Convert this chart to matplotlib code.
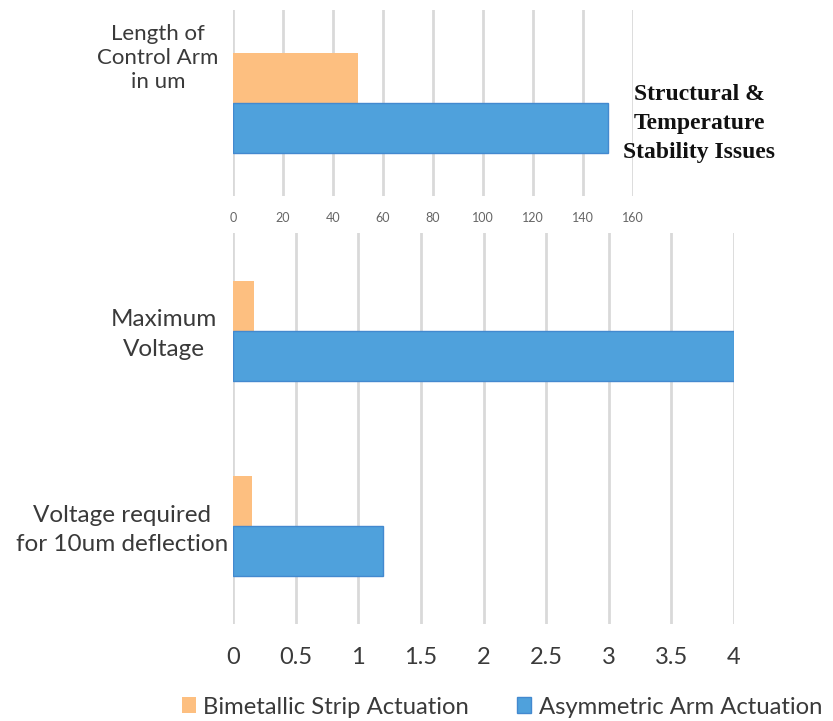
import matplotlib.pyplot as plt
import matplotlib.transforms as mtransforms
from matplotlib.patches import Patch

# data
series_names = ['Bimetallic Strip Actuation', 'Asymmetric Arm Actuation']
top_category = ['Length of\nControl Arm\nin um']
top_bimetallic = [50]
top_asymmetric = [150]
top_ticks = [0, 20, 40, 60, 80, 100, 120, 140, 160]

bottom_categories = ['Voltage required\nfor 10um deflection', 'Maximum\nVoltage']
bottom_bimetallic = [0.15, 0.17]
bottom_asymmetric = [1.2, 4.0]
bottom_ticks = [0, 0.5, 1, 1.5, 2, 2.5, 3, 3.5, 4]
bottom_ticklabels = ['0', '0.5', '1', '1.5', '2', '2.5', '3', '3.5', '4']

note_text = 'Structural &\nTemperature\nStability Issues'

orange = '#FDBF80'
blue = '#4FA1DC'
blue_edge = '#4389CF'
grid_col = '#D9D9D9'
text_col = '#3A3A3A'

plt.rcParams['font.family'] = ['Lato', 'DejaVu Sans']

W, H = 833, 721
fig = plt.figure(figsize=(W / 100, H / 100), dpi=100)


def px_axes(x0, y0, x1, y1):
    return fig.add_axes([x0 / W, 1 - y1 / H, (x1 - x0) / W, (y1 - y0) / H])


def style(ax):
    for s in ax.spines.values():
        s.set_visible(False)
    ax.tick_params(axis='y', left=False, labelleft=False)
    ax.tick_params(axis='x', bottom=False)
    ax.grid(axis='x', color=grid_col, linewidth=2)
    ax.set_axisbelow(True)


# top panel
ax1 = px_axes(233, 10, 633, 196)
style(ax1)
h1 = 0.27
y1 = list(range(len(top_category)))
ax1.barh([y + h1 / 2 for y in y1], top_bimetallic, height=h1, color=orange)
ax1.barh([y - h1 / 2 for y in y1], top_asymmetric, height=h1, color=blue,
         edgecolor=blue_edge, linewidth=1)
ax1.set_xlim(0, 160)
ax1.set_ylim(-0.5, 0.5)
ax1.set_xticks(top_ticks)
ax1.set_xticklabels([str(t) for t in top_ticks], fontsize=9, color='#666666')
ax1.tick_params(axis='x', pad=8)
tr1 = mtransforms.blended_transform_factory(fig.transFigure, ax1.transData)
for y, lab in zip(y1, top_category):
    ax1.text(158 / W, y + 0.24, lab, transform=tr1, ha='center', va='center',
             fontsize=16, color=text_col, linespacing=1.25)
# annotation to the right of the long bar
ax1.text(186.5, -0.11, note_text, ha='center', va='center', fontsize=17,
         family='Liberation Serif', fontweight='bold', color='#111111',
         linespacing=1.5, clip_on=False)

# bottom panel
ax2 = px_axes(233, 233, 734, 624)
style(ax2)
h2 = 0.256
y2 = list(range(len(bottom_categories)))
ax2.barh([y + h2 / 2 for y in y2], bottom_bimetallic, height=h2, color=orange)
ax2.barh([y - h2 / 2 for y in y2], bottom_asymmetric, height=h2, color=blue,
         edgecolor=blue_edge, linewidth=1)
ax2.set_xlim(0, 4)
ax2.set_ylim(-0.5, 1.5)
ax2.set_xticks(bottom_ticks)
ax2.set_xticklabels(bottom_ticklabels, fontsize=17, color=text_col)
ax2.tick_params(axis='x', pad=13)
tr2 = mtransforms.blended_transform_factory(fig.transFigure, ax2.transData)
label_x = [122, 164]
for y, lab, lx in zip(y2, bottom_categories, label_x):
    ax2.text(lx / W, y - 0.02, lab, transform=tr2, ha='center', va='center',
             fontsize=17.5, color=text_col, linespacing=1.5)

handles = [Patch(facecolor=orange, edgecolor='none'),
           Patch(facecolor=blue, edgecolor=blue_edge)]
fig.legend(handles, series_names, loc='center', ncol=2,
           bbox_to_anchor=(502 / W, 1 - 707 / H), frameon=False,
           fontsize=17.2, handlelength=0.6, handleheight=0.6, handletextpad=0.3,
           columnspacing=2.0, labelcolor=text_col, borderpad=0.2)

fig.savefig('out.png', dpi=100)
